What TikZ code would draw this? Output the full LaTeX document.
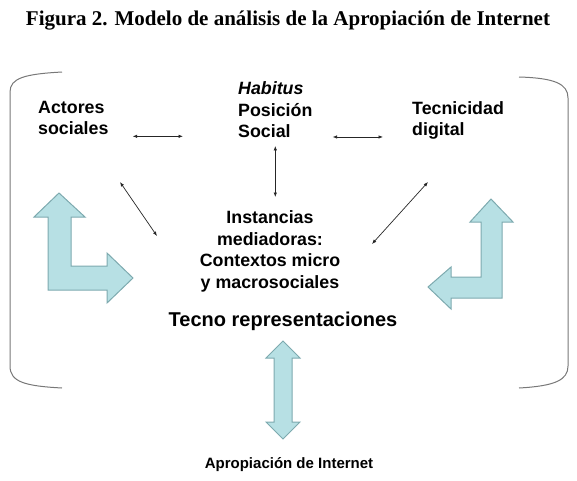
\documentclass[tikz,border=0pt]{standalone}
\usepackage{fontspec}
\setmainfont{Liberation Serif}
\setsansfont{Liberation Sans}
\usetikzlibrary{arrows.meta}
\definecolor{flecha}{RGB}{183,224,228}
\definecolor{borde}{RGB}{125,170,175}
\definecolor{corchete}{RGB}{120,120,120}
\begin{document}
\begin{tikzpicture}[x=1pt, y=-1pt,
    txt/.style={font=\sffamily\bfseries\fontsize{17.8}{21.5}\selectfont, inner sep=0pt},
    link/.style={line width=0.7pt, draw=black!85, {Latex[length=4.5pt,width=3.5pt]}-{Latex[length=4.5pt,width=3.5pt]}},
    bigarrow/.style={fill=flecha, draw=borde, line width=1pt},
    bracket/.style={draw=corchete, line width=1pt}]
    \useasboundingbox (0,0) rectangle (577,480);
        \node [font=\bfseries\fontsize{21}{25}\selectfont, anchor=base] (titulo) at (288,25) {Figura 2. Modelo de análisis de la Apropiación de Internet};
        % corchetes
        \draw[bracket] (62,72) .. controls (25,74) and (10,78) .. (10,92) -- (10,366) .. controls (10,382) and (25,386) .. (62,388);
        \draw[bracket] (519,77) .. controls (555,78) and (568,84) .. (568,98) -- (568,366) .. controls (568,380) and (555,386) .. (519,388);
        % textos
        \node [txt, align=left, anchor=north west] (actores) at (38,101) {Actores\\sociales};
        \node [txt, align=left, anchor=north west] (habitus) at (238,81.5) {\itshape Habitus\\Posición\\Social};
        \node [txt, align=left, anchor=north west] (tecnicidad) at (412,101) {Tecnicidad\\digital};
        \node [txt, align=center, anchor=north] (instancias) at (270,210.5) {Instancias\\mediadoras:\\Contextos micro\\y macrosociales};
        \node [txt, font=\sffamily\bfseries\fontsize{20}{24}\selectfont, anchor=north] (tecno) at (283,312) {Tecno representaciones};
        \node [txt, font=\sffamily\bfseries\fontsize{15}{18}\selectfont, anchor=base] (apropiacion) at (289,468.5) {Apropiación de Internet};
        \coordinate (al) at (120,182);
        \coordinate (bl) at (157,236);
        \coordinate (ar) at (428,182);
        \coordinate (br) at (372,244);
        % flechas finas
        \draw[link, shorten <=24pt, shorten >=55pt] ([yshift=-1pt]actores.south east) -- ([yshift=-1pt]actores.south east -| habitus.west);
        \draw[link, shorten <=20pt, shorten >=29pt] ([yshift=1pt]habitus.south east) -- ([yshift=1pt]habitus.south east -| tecnicidad.west);
        \draw[link, shorten <=8pt, shorten >=13.5pt] (habitus.south) -- (habitus.south |- instancias.north);
        \draw[link] (al) -- (bl);
        \draw[link] (ar) -- (br);
        % flechas grandes
        \draw[bigarrow] (59,193) -- (85,217) -- (71,217) -- (71,266) -- (107,266) -- (107,253) -- (133,278)
            -- (107,303) -- (107,290) -- (48,290) -- (48,217) -- (34,217) -- cycle;
        \draw[bigarrow] (491,199) -- (513,222) -- (502,222) -- (502,298) -- (451,298) -- (451,309) -- (428,287)
            -- (451,267) -- (451,277) -- (481,277) -- (481,222) -- (470,222) -- cycle;
        \draw[bigarrow] (283,341) -- (300,358) -- (292,358) -- (292,422) -- (300,422) -- (283,439)
            -- (266,422) -- (274,422) -- (274,358) -- (266,358) -- cycle;
    \end{tikzpicture}
\end{document}
